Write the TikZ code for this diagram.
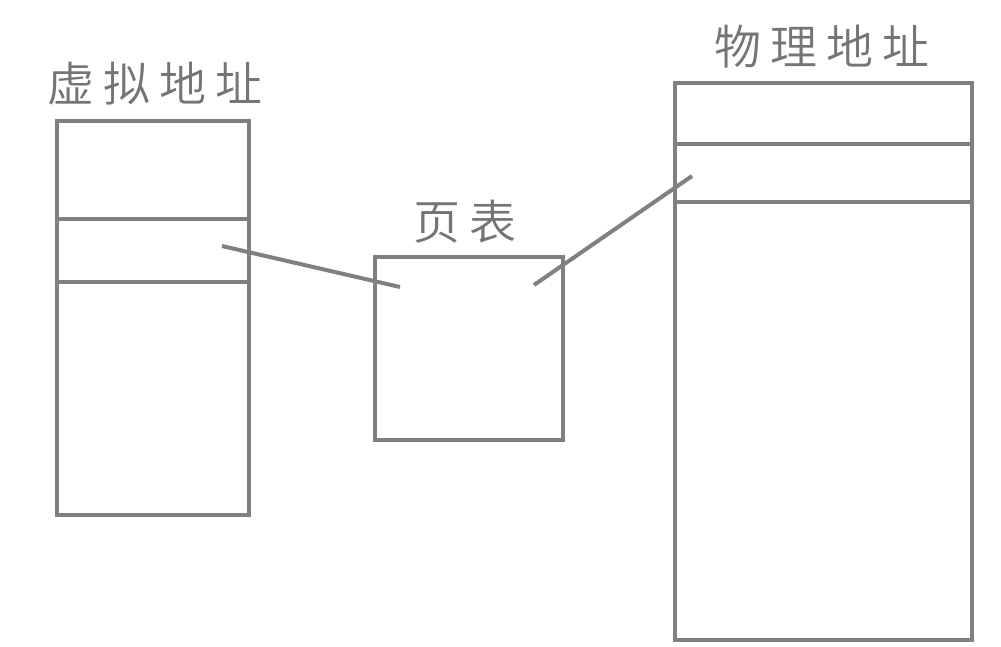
\documentclass[tikz,border=0pt]{standalone}
\usepackage{fontspec}
\newfontfamily\cjk{Noto Sans CJK SC DemiLight}
\begin{document}
\begin{tikzpicture}[x=1pt,y=-1pt,
  box/.style={draw=linegray,line width=4pt,rectangle,inner sep=0pt,outer sep=0pt,anchor=north west},
  lbl/.style={text=txtgray,font=\cjk\fontsize{47}{47}\selectfont,inner sep=0pt},
  conn/.style={draw=linegray,line width=4pt}]
\definecolor{linegray}{HTML}{808080}
\definecolor{txtgray}{HTML}{757575}
\useasboundingbox (0,0) rectangle (1001,646);
% boxes
\node[box,minimum width=192pt,minimum height=394pt] (virt) at (57,121) {};
\node[box,minimum width=188pt,minimum height=183pt] (pt) at (375,257) {};
\node[box,minimum width=297pt,minimum height=557pt] (phys) at (675,83) {};
% dividers
\draw[conn] (57,219) -- (249,219);
\draw[conn] (57,282) -- (249,282);
\draw[conn] (675,144) -- (972,144);
\draw[conn] (675,202) -- (972,202);
% labels
\node[lbl] (lv) at (155,84) {虚\hspace{9pt}拟\hspace{9pt}地\hspace{9pt}址};
\node[lbl] (lp) at (465,222) {页\hspace{9pt}表};
\node[lbl] (lph) at (822,47) {物\hspace{9pt}理\hspace{9pt}地\hspace{9pt}址};
% connectors
\coordinate (a1) at (222,246);
\coordinate (a2) at (400,287);
\coordinate (b1) at (534,285);
\coordinate (b2) at (692,176);
\draw[conn] (a1) -- (a2);
\draw[conn] (b1) -- (b2);
\end{tikzpicture}
\end{document}
